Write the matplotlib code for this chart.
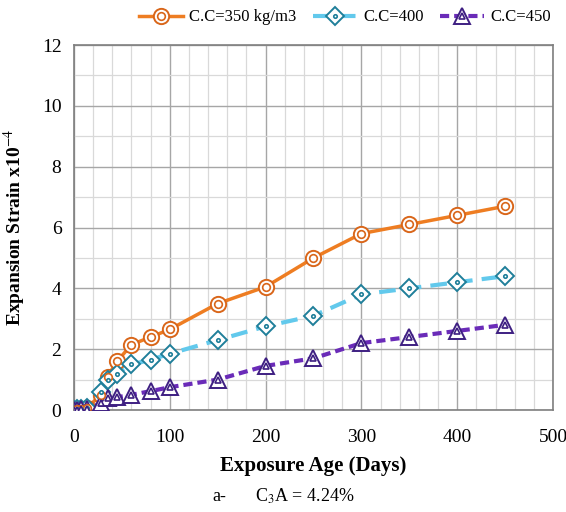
import matplotlib
matplotlib.use("Agg")
import matplotlib.pyplot as plt
from matplotlib.lines import Line2D
from matplotlib.ticker import MultipleLocator, FuncFormatter

days = [0, 3, 7, 14, 28, 35, 45, 60, 80, 100, 150, 200, 250, 300, 350, 400, 450]
cc350 = [0, 0.02, 0.04, 0.08, 0.5, 1.1, 1.6, 2.15, 2.4, 2.65, 3.5, 4.05, 5.0, 5.8, 6.1, 6.4, 6.7]
cc400 = [0, 0.02, 0.03, 0.06, 0.6, 1.0, 1.2, 1.5, 1.65, 1.85, 2.3, 2.75, 3.1, 3.8, 4.0, 4.2, 4.4]
cc450 = [0, 0.01, 0.02, 0.04, 0.22, 0.38, 0.42, 0.5, 0.62, 0.75, 1.0, 1.45, 1.7, 2.2, 2.4, 2.6, 2.8]
labels = ["C.C=350 kg/m3", "C.C=400", "C.C=450"]

plt.rcParams['font.family'] = ['Liberation Serif', 'DejaVu Serif']
plt.rcParams['mathtext.fontset'] = 'stix'

fig = plt.figure(figsize=(5.66, 5.12), dpi=100)
ax = fig.add_axes([0.1307, 0.1992, 0.8463, 0.7128])

styles = [
    dict(color="#ee7d22", medge="#d9661a", ls="-", outer="o", inner="o", os=11, isz=5.5, lw=2.5),
    dict(color="#62c9ec", medge="#1f7f9a", ls=(0, (4, 2.2)), outer="D", inner="o", os=9, isz=2.5, lw=3),
    dict(color="#6a2bb8", medge="#3e1f82", ls=(0, (2.2, 1.2)), outer="^", inner="^", os=11.5, isz=4.5, lw=3),
]
series = [cc350, cc400, cc450]
handles = []
for vals, st, lab in zip(series, styles, labels):
    ax.plot(days, vals, color=st["color"], ls=st["ls"], lw=st["lw"], zorder=3)
    ax.plot(days, vals, ls="none", marker=st["outer"], ms=st["os"], mfc="white",
            mec=st["medge"], mew=1.4, zorder=4)
    ax.plot(days, vals, ls="none", marker=st["inner"], ms=st["isz"], mfc="white",
            mec=st["medge"], mew=1.2, zorder=5)
    h1 = Line2D([], [], color=st["color"], ls=st["ls"], lw=st["lw"], marker=st["outer"],
                ms=st["os"], mfc="white", mec=st["medge"], mew=1.4)
    h2 = Line2D([], [], ls="none", marker=st["inner"], ms=st["isz"], mfc="white",
                mec=st["medge"], mew=1.2)
    handles.append((h1, h2))

ax.set_xlim(0, 500)
ax.set_ylim(0, 12)
ax.xaxis.set_major_locator(MultipleLocator(100))
ax.xaxis.set_minor_locator(MultipleLocator(20))
ax.yaxis.set_major_locator(MultipleLocator(2))
ax.yaxis.set_minor_locator(MultipleLocator(1))
fmt = FuncFormatter(lambda v, p: f"{v:.0f}")
ax.xaxis.set_major_formatter(fmt)
ax.yaxis.set_major_formatter(fmt)
ax.grid(which="major", color="#a6a6a6", lw=1.0, zorder=0)
ax.grid(which="minor", color="#d9d9d9", lw=0.9, zorder=0)
ax.set_axisbelow(True)
for s in ax.spines.values():
    s.set_color("#7f7f7f")
    s.set_linewidth(1.2)
ax.tick_params(which="both", length=0, labelsize=14, labelfontfamily="Liberation Serif")
ax.tick_params(axis="x", pad=14)
ax.tick_params(axis="y", pad=9)

ax.set_xlabel("Exposure Age (Days)", fontsize=15, fontweight="bold", labelpad=7)
ax.set_ylabel("Expansion Strain x10$^{-4}$", fontsize=14, fontweight="bold", labelpad=10)

fig.legend(handles, labels, loc="center", bbox_to_anchor=(0.61, 0.966), ncol=3,
           frameon=False, fontsize=12, handlelength=2.6, columnspacing=1.0,
           handletextpad=0.4)

fig.text(0.375, 0.03, "a-", fontsize=13, ha="left", va="center")
fig.text(0.45, 0.03, "C$_3$A = 4.24%", fontsize=13, ha="left", va="center")

fig.savefig("out.png", dpi=100)
